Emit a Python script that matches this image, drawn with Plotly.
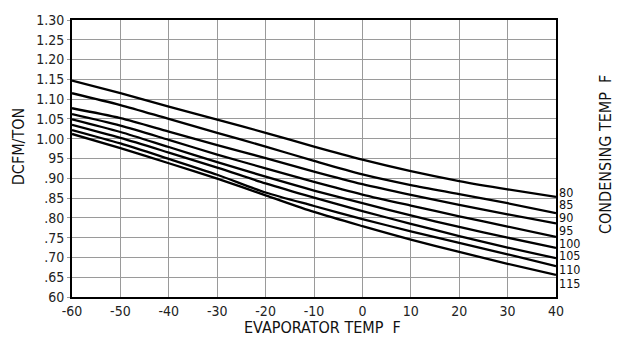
import plotly.graph_objects as go

evap_temp = [-60, -50, -40, -30, -20, -10, 0, 10, 20, 30, 40]
cond_labels = ["80", "85", "90", "95", "100", "105", "110", "115"]
c80 = [1.147, 1.115, 1.081, 1.048, 1.015, 0.980, 0.947, 0.918, 0.893, 0.872, 0.853]
c85 = [1.115, 1.085, 1.050, 1.015, 0.980, 0.944, 0.910, 0.883, 0.860, 0.837, 0.812]
c90 = [1.077, 1.052, 1.018, 0.984, 0.951, 0.917, 0.885, 0.858, 0.833, 0.809, 0.786]
c95 = [1.062, 1.033, 0.997, 0.960, 0.925, 0.891, 0.859, 0.831, 0.804, 0.778, 0.752]
c100 = [1.049, 1.017, 0.979, 0.941, 0.904, 0.869, 0.837, 0.806, 0.777, 0.750, 0.724]
c105 = [1.035, 1.002, 0.965, 0.927, 0.887, 0.851, 0.817, 0.785, 0.754, 0.725, 0.698]
c110 = [1.022, 0.988, 0.949, 0.909, 0.864, 0.830, 0.797, 0.766, 0.737, 0.708, 0.678]
c115 = [1.012, 0.976, 0.938, 0.899, 0.857, 0.815, 0.779, 0.745, 0.714, 0.684, 0.656]
series = [c80, c85, c90, c95, c100, c105, c110, c115]

y_tickvals = [0.60, 0.65, 0.70, 0.75, 0.80, 0.85, 0.90, 0.95, 1.00, 1.05, 1.10, 1.15, 1.20, 1.25, 1.30]
y_ticktext = ["60", ".65", ".70", ".75", ".80", ".85", ".90", "95", "1.00", "1.05", "1.10", "1.15", "1.20", "1.25", "1.30"]
x_ticktext = ["-60", "-50", "-40", "-30", "-20", "-10", "0", "10", "20", "30", "40"]

FONT = "Liberation Sans Narrow, DejaVu Sans Condensed, Arial Narrow, sans-serif"

fig = go.Figure()
for name, vals in zip(cond_labels, series):
    fig.add_trace(go.Scatter(x=evap_temp, y=vals, mode="lines", name=name,
                             line=dict(color="black", width=2.3, shape="spline", smoothing=0.8),
                             showlegend=False, hoverinfo="skip"))

W, H = 622, 343
L, R, T, B = 72, 66, 14, 46
ph = H - T - B

# right-side condensing temperature labels, stacked
label_px = [190, 203, 216, 229, 242, 255, 269, 283]
for lab, py in zip(cond_labels, label_px):
    fig.add_annotation(xref="paper", yref="paper", x=1.0, y=1 - (py - T) / ph,
                       xanchor="left", yanchor="middle", xshift=2, text=lab,
                       showarrow=False, borderpad=0,
                       font=dict(family=FONT, size=12.5, color="#111"))

fig.add_annotation(xref="paper", yref="paper", x=1.0, y=1 - (152 - T) / ph, xshift=49,
                   text="CONDENSING TEMP  F", textangle=-90, showarrow=False,
                   xanchor="center", yanchor="middle",
                   font=dict(family=FONT, size=16, color="#111"))
fig.add_annotation(xref="paper", yref="paper", x=0.0, y=1 - (143 - T) / ph, xshift=-54,
                   text="DCFM/TON", textangle=-90, showarrow=False,
                   xanchor="center", yanchor="middle",
                   font=dict(family=FONT, size=16, color="#111"))
fig.add_annotation(xref="paper", yref="paper", x=(322 - L) / (W - L - R), y=0, yshift=-30,
                   text="EVAPORATOR TEMP  F", showarrow=False,
                   xanchor="center", yanchor="middle",
                   font=dict(family=FONT, size=16, color="#111"))

fig.update_xaxes(range=[-60, 40], tickvals=evap_temp, ticktext=x_ticktext,
                 showgrid=True, gridcolor="#9a9a9a", gridwidth=1,
                 showline=True, linecolor="black", linewidth=2, mirror=True,
                 ticks="", zeroline=False,
                 tickfont=dict(family=FONT, size=14, color="#222"))
fig.update_yaxes(range=[0.60, 1.30], tickvals=y_tickvals, ticktext=y_ticktext,
                 showgrid=True, gridcolor="#9a9a9a", gridwidth=1,
                 showline=True, linecolor="black", linewidth=2, mirror=True,
                 ticks="outside", ticklen=3, tickcolor="#999", zeroline=False,
                 tickfont=dict(family=FONT, size=14, color="#222"))

fig.update_layout(width=W, height=H, margin=dict(l=L, r=R, t=T, b=B),
                  paper_bgcolor="white", plot_bgcolor="white")

fig.write_html("out.html", config={"displayModeBar": False},
               post_script="document.body.style.margin='0';")
